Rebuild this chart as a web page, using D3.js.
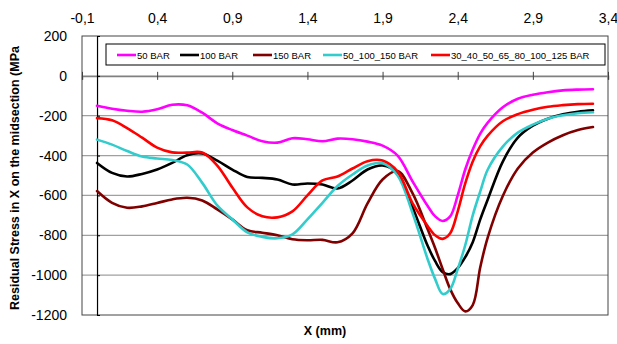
<!DOCTYPE html>
<html>
<head>
<meta charset="utf-8">
<script src="https://cdn.jsdelivr.net/npm/d3@7"></script>
<style>
  body { margin: 0; background: #fff; }
  svg { display: block; font-family: "Liberation Sans", Arial, sans-serif; }
</style>
</head>
<body>
<script>
// x positions (mm) shared by all series
const xValues = [0, 0.1, 0.2, 0.3, 0.4, 0.5, 0.6, 0.7, 0.8, 0.9, 1.0, 1.1, 1.2, 1.3, 1.4, 1.5, 1.6, 1.7, 1.8, 1.9, 2.0, 2.1, 2.2, 2.25, 2.3, 2.35, 2.4, 2.45, 2.5, 2.55, 2.6, 2.7, 2.8, 2.9, 3.0, 3.1, 3.2, 3.3];

const bar50 = [-150, -165, -175, -180, -168, -145, -148, -185, -238, -272, -300, -328, -335, -313, -318, -328, -315, -318, -330, -350, -400, -530, -653, -705, -728, -705, -600, -470, -370, -290, -235, -158, -115, -95, -82, -73, -69, -67];
const bar100 = [-437, -487, -505, -492, -470, -437, -398, -390, -425, -470, -508, -512, -520, -545, -540, -545, -565, -525, -470, -450, -490, -660, -853, -930, -985, -995, -965, -910, -835, -720, -620, -430, -310, -250, -215, -193, -180, -173];
const bar150 = [-578, -637, -662, -655, -638, -620, -612, -625, -670, -720, -775, -787, -800, -820, -825, -823, -835, -790, -640, -520, -478, -590, -770, -865, -970, -1070, -1140, -1182, -1150, -960, -810, -603, -465, -385, -335, -298, -272, -257];
const bar50_100_150 = [-320, -345, -377, -405, -415, -422, -445, -537, -650, -720, -785, -808, -815, -795, -720, -637, -553, -495, -450, -438, -500, -690, -920, -1020, -1095, -1070, -970, -850, -700, -580, -470, -355, -285, -245, -215, -198, -188, -183];
const barMulti = [-212, -223, -262, -310, -360, -384, -385, -385, -450, -560, -660, -705, -710, -680, -600, -525, -505, -465, -428, -425, -480, -640, -753, -800, -818, -790, -680, -540, -430, -353, -300, -228, -192, -170, -155, -147, -142, -140];

const seriesNames = ["50 BAR", "100 BAR", "150 BAR", "50_100_150 BAR", "30_40_50_65_80_100_125 BAR"];
const seriesValues = [bar50, bar100, bar150, bar50_100_150, barMulti];
const seriesColors = ["#ff00ff", "#000000", "#800000", "#33cccc", "#ff0000"];

const xTicks = [-0.1, 0.4, 0.9, 1.4, 1.9, 2.4, 2.9, 3.4];
const yTicks = [200, 0, -200, -400, -600, -800, -1000, -1200];

const width = 617;
const height = 344;
const plot = { left: 82, right: 608, top: 36, bottom: 315 };

const svg = d3.select("body")
              .append("svg")
              .attr("width", width)
              .attr("height", height);

const x = d3.scaleLinear().domain([-0.1, 3.4]).range([plot.left, plot.right]);
const y = d3.scaleLinear().domain([-1200, 200]).range([plot.bottom, plot.top]);

// horizontal gridlines
svg.append("g")
   .selectAll("line")
   .data(yTicks.filter(d => d < 0 && d > -1200))
   .enter()
   .append("line")
   .attr("x1", plot.left)
   .attr("x2", plot.right)
   .attr("y1", d => y(d))
   .attr("y2", d => y(d))
   .attr("stroke", "#a0a0a0")
   .attr("stroke-width", 1.2);

// plot area border
svg.append("rect")
   .attr("x", plot.left)
   .attr("y", plot.top)
   .attr("width", plot.right - plot.left)
   .attr("height", plot.bottom - plot.top)
   .attr("fill", "none")
   .attr("stroke", "#444")
   .attr("stroke-width", 1);

// x axis along y = 0, ticks crossing the line
const xAxisLine = svg.append("g")
   .attr("transform", `translate(0, ${y(0)})`)
   .call(d3.axisBottom(x).tickValues(xTicks).tickSize(4).tickFormat(""));
xAxisLine.call(g => g.select(".domain").attr("stroke", "#808080").attr("stroke-width", 1.6));
xAxisLine.selectAll(".tick line").attr("y1", -4).attr("stroke", "#404040");

// x tick labels at top
const fmt = d => d3.format(".1f")(d).replace(".", ",").replace("−", "-");
svg.append("g")
   .attr("transform", `translate(0, 26)`)
   .call(d3.axisTop(x).tickValues(xTicks).tickSize(0).tickFormat(fmt))
   .call(g => g.select(".domain").remove())
   .selectAll("text")
   .attr("font-size", "14px")
   .attr("font-family", "Liberation Sans, Arial, sans-serif")
   .attr("fill", "#000");

// y axis at x = 0
const yAxisLine = svg.append("g")
   .attr("transform", `translate(${x(0)}, 0)`)
   .call(d3.axisLeft(y).tickValues(yTicks).tickSize(4).tickSizeOuter(0).tickFormat(""));
yAxisLine.call(g => g.select(".domain").attr("stroke", "#000").attr("stroke-width", 1.2));
yAxisLine.selectAll(".tick line").attr("x2", 3).attr("stroke", "#000");

// y tick labels on the left
svg.append("g")
   .attr("transform", `translate(${plot.left - 12}, 0)`)
   .call(d3.axisLeft(y).tickValues(yTicks).tickSize(0).tickFormat(d => d3.format("d")(d).replace("−", "-")))
   .call(g => g.select(".domain").remove())
   .selectAll("text")
   .attr("font-size", "14px")
   .attr("font-family", "Liberation Sans, Arial, sans-serif")
   .attr("fill", "#000");

// series lines (smoothed like the spreadsheet)
const line = d3.line()
               .x((d, i) => x(xValues[i]))
               .y(d => y(d))
               .curve(d3.curveCatmullRom.alpha(0.5));

svg.append("g")
   .selectAll("path")
   .data(seriesValues)
   .enter()
   .append("path")
   .attr("d", line)
   .attr("fill", "none")
   .attr("stroke", (d, i) => seriesColors[i])
   .attr("stroke-width", 2.6)
   .attr("stroke-linejoin", "round")
   .attr("stroke-linecap", "round");

// legend
const legend = svg.append("g").attr("id", "legend");
legend.append("rect")
      .attr("x", 106)
      .attr("y", 44)
      .attr("width", 499)
      .attr("height", 21)
      .attr("fill", "#fff")
      .attr("stroke", "#000")
      .attr("stroke-width", 1);

const legendX = [117, 180, 253, 323, 431];
const items = legend.selectAll(".item")
      .data(seriesNames)
      .enter()
      .append("g")
      .attr("class", "item")
      .attr("transform", (d, i) => `translate(${legendX[i]}, 55)`);
items.append("line")
     .attr("x1", 0)
     .attr("x2", 19)
     .attr("stroke", (d, i) => seriesColors[i])
     .attr("stroke-width", 2.6);
items.append("text")
     .attr("x", 20)
     .attr("y", 3.5)
     .attr("font-size", "9.5px")
     .text(d => d);

// axis titles
svg.append("text")
   .attr("transform", "translate(19, 310) rotate(-90)")
   .attr("font-size", "12.5px")
   .attr("font-weight", "bold")
   .text("Residual Stress in X on the midsection (MPa");

svg.append("text")
   .attr("x", 325)
   .attr("y", 335)
   .attr("text-anchor", "middle")
   .attr("font-size", "12.5px")
   .attr("font-weight", "bold")
   .text("X (mm)");
</script>
</body>
</html>
